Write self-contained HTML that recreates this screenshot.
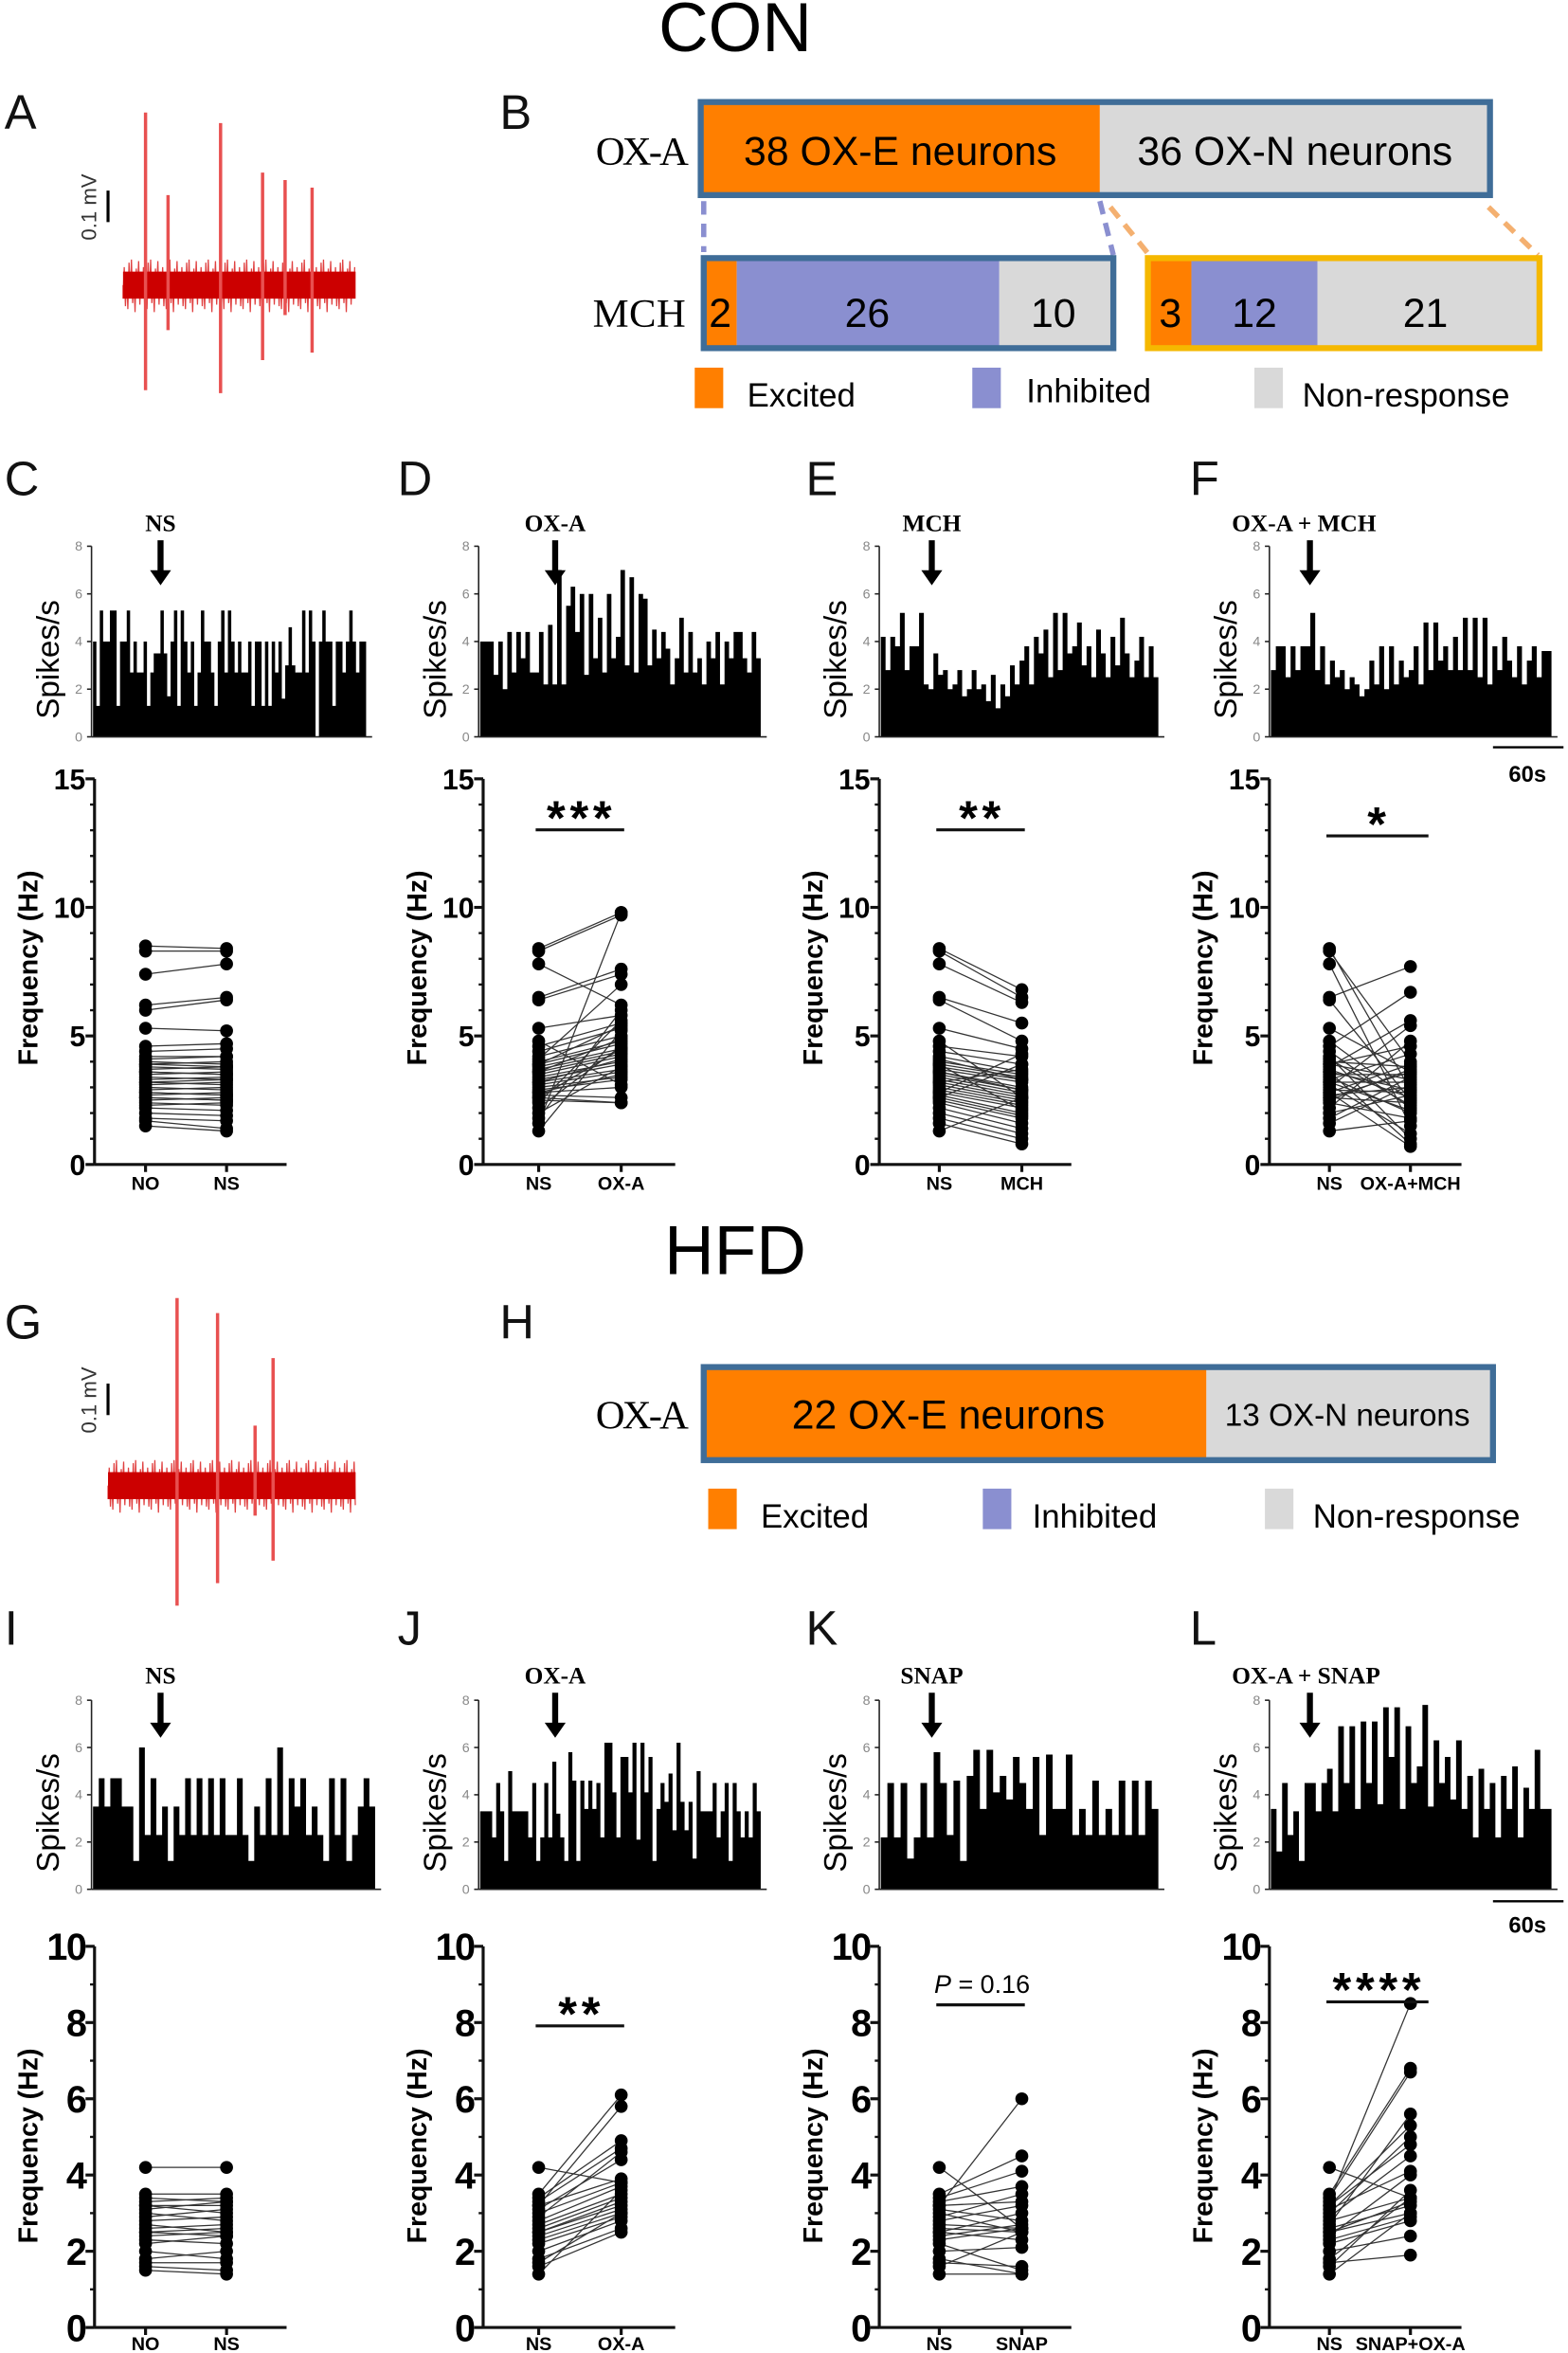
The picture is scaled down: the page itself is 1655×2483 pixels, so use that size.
<!DOCTYPE html>
<html><head><meta charset="utf-8"><style>
html,body{margin:0;padding:0;background:#fff;}
svg{display:block;}
text{font-family:"Liberation Sans",sans-serif;}
.lbl{font-size:32px;fill:#111;font-weight:normal;}
text.serif{font-family:"Liberation Serif",serif;}
</style></head><body>
<svg id="fig" width="1655" height="2483" viewBox="0 0 1045 1568" preserveAspectRatio="none" xmlns="http://www.w3.org/2000/svg">
<rect x="0" y="0" width="1045" height="1568" fill="#fff"/>
<text x="490" y="34" text-anchor="middle" font-size="46">CON</text>
<text x="490" y="849" text-anchor="middle" font-size="46">HFD</text>
<g class="lbl">
<text x="3" y="86" class="lbl">A</text>
<text x="333" y="86" class="lbl">B</text>
<text x="3" y="330" class="lbl">C</text>
<text x="265" y="330" class="lbl">D</text>
<text x="537" y="330" class="lbl">E</text>
<text x="793" y="330" class="lbl">F</text>
<text x="3" y="892" class="lbl">G</text>
<text x="333" y="892" class="lbl">H</text>
<text x="3" y="1096" class="lbl">I</text>
<text x="265" y="1096" class="lbl">J</text>
<text x="537" y="1096" class="lbl">K</text>
<text x="793" y="1096" class="lbl">L</text>
</g>

<!-- Panel B -->
<g>
<text x="397" y="110" class="serif" font-size="27" textLength="62">OX-A</text>
<rect x="467" y="68" width="266" height="62" fill="#ff7f00"/>
<rect x="733" y="68" width="260" height="62" fill="#d9d9d9"/>
<rect x="467" y="68" width="526" height="62" fill="none" stroke="#3f6d98" stroke-width="4"/>
<text x="600" y="110" text-anchor="middle" font-size="27">38 OX-E neurons</text>
<text x="863" y="110" text-anchor="middle" font-size="27">36 OX-N neurons</text>
<line x1="469" y1="134" x2="469" y2="168" stroke="#8a8fd0" stroke-width="3.5" stroke-dasharray="9,6"/>
<line x1="733" y1="134" x2="742" y2="170" stroke="#8a8fd0" stroke-width="3.5" stroke-dasharray="9,6"/>
<line x1="740" y1="138" x2="766" y2="170" stroke="#f4b070" stroke-width="3.5" stroke-dasharray="9,6"/>
<line x1="992" y1="138" x2="1025" y2="170" stroke="#f4b070" stroke-width="3.5" stroke-dasharray="9,6"/>
<text x="395" y="218" class="serif" font-size="27" textLength="62">MCH</text>
<rect x="469" y="172" width="22" height="60" fill="#ff7f00"/>
<rect x="491" y="172" width="175" height="60" fill="#8a8fd0"/>
<rect x="666" y="172" width="75" height="60" fill="#d9d9d9"/>
<rect x="469" y="172" width="273" height="60" fill="none" stroke="#3f6d98" stroke-width="4"/>
<text x="480" y="218" text-anchor="middle" font-size="27">2</text>
<text x="578" y="218" text-anchor="middle" font-size="27">26</text>
<text x="702" y="218" text-anchor="middle" font-size="27">10</text>
<rect x="765" y="172" width="29" height="60" fill="#ff7f00"/>
<rect x="794" y="172" width="84" height="60" fill="#8a8fd0"/>
<rect x="878" y="172" width="148" height="60" fill="#d9d9d9"/>
<rect x="765" y="172" width="261" height="60" fill="none" stroke="#f5b800" stroke-width="4"/>
<text x="780" y="218" text-anchor="middle" font-size="27">3</text>
<text x="836" y="218" text-anchor="middle" font-size="27">12</text>
<text x="950" y="218" text-anchor="middle" font-size="27">21</text>
<rect x="463" y="245" width="19" height="27" fill="#ff7f00"/>
<text x="498" y="271" font-size="22">Excited</text>
<rect x="648" y="245" width="19" height="27" fill="#8a8fd0"/>
<text x="684" y="268" font-size="22">Inhibited</text>
<rect x="836" y="245" width="19" height="27" fill="#d9d9d9"/>
<text x="868" y="271" font-size="22">Non-response</text>
</g>

<!-- Panel H -->
<g>
<text x="397" y="952" class="serif" font-size="27" textLength="62">OX-A</text>
<rect x="469" y="911" width="335" height="62" fill="#ff7f00"/>
<rect x="804" y="911" width="191" height="62" fill="#d9d9d9"/>
<rect x="469" y="911" width="526" height="62" fill="none" stroke="#3f6d98" stroke-width="4"/>
<text x="632" y="952" text-anchor="middle" font-size="27">22 OX-E neurons</text>
<text x="898" y="950" text-anchor="middle" font-size="21">13 OX-N neurons</text>
<rect x="472" y="992" width="19" height="27" fill="#ff7f00"/>
<text x="507" y="1018" font-size="22">Excited</text>
<rect x="655" y="992" width="19" height="27" fill="#8a8fd0"/>
<text x="688" y="1018" font-size="22">Inhibited</text>
<rect x="843" y="992" width="19" height="27" fill="#d9d9d9"/>
<text x="875" y="1018" font-size="22">Non-response</text>
</g>

<!-- 60s scale bars -->
<line x1="995" y1="498" x2="1042" y2="498" stroke="#000" stroke-width="1.5"/>
<text x="1018" y="521" text-anchor="middle" font-size="15" font-weight="bold">60s</text>
<line x1="995" y1="1267" x2="1042" y2="1267" stroke="#000" stroke-width="1.5"/>
<text x="1018" y="1288" text-anchor="middle" font-size="15" font-weight="bold">60s</text>
<g id="dyn"></g>
</svg>
<script>
// ---- Data arrays ----
const traceASpikeX = [97, 112, 147, 175, 190, 208];
const traceASpikeUp = [115, 60, 108, 75, 70, 65];
const traceASpikeDown = [70, 30, 72, 50, 20, 45];
const traceGSpikeX = [118, 145, 170, 182];
const traceGSpikeUp = [125, 115, 40, 85];
const traceGSpikeDown = [80, 65, 20, 50];

const histC = [4,1.3,5.3,4,4,5.3,5.3,1.3,4,4,5.3,2.7,4,2.7,2.7,4,1.3,2.7,3.5,3.5,5.3,3.5,1.7,4,5.3,1.3,5.3,4,2.7,4,1.3,2.7,5.3,4,4,2.7,1.3,4,5.3,2.7,5.3,4,2.7,4,2.7,2.7,4,1.3,4,4,1.3,4,1.3,4,2.7,4,1.6,3,4.6,3,2.7,2.7,5.3,2.7,5.3,4,0,4,5.3,4,4,1.3,4,4,2.7,4,5.3,4,2.7,4,4];
const histD = [4,4,4,2.6,4,2,4.4,2.7,4.4,3.3,4.4,2.7,2.7,4.4,2.2,4.7,2.2,7,2.2,5.5,6.3,4.4,6,2.6,6,3.3,5,2.7,6,3.3,4.2,7,3,6.7,2.7,6,5.8,3,4.5,3.3,4.4,3.7,2.2,3.3,5,2.7,4.4,2.7,3.3,2.2,4,3.3,4.4,2.2,4,3.3,4.4,4.4,3.3,2.7,4.4,3.3];
const histE = [4.2,2.8,4.2,3.8,5.2,2.8,3.8,3.8,5.2,2.2,2,3.5,2.6,2.8,2,2.2,2.8,1.7,2,2.8,2,2.2,1.5,2.6,1.2,2.2,1.7,3,2.2,3.2,3.8,2.2,4.2,3.5,4.5,2.5,5.2,2.8,5.2,3.5,3.8,4.8,3,3.8,2.5,4.5,3.5,2.5,4.2,3,5,3.5,2.5,3.2,4.2,2.5,3.8,2.5];
const histF = [2.8,3.8,3.8,2.5,3.8,2.8,3.8,3.8,5.2,2.8,3.8,2.2,3.2,2.5,2.8,2,2.5,2.2,1.7,2,3.2,2.2,3.8,2,3.8,2.2,3.2,2.5,2.8,3.8,2.2,4.8,2.8,4.8,3.2,3.8,2.8,4.2,2.8,5,2.8,5,2.5,5,2.2,3.8,2.8,4.2,3.2,2.5,3.8,2.2,3.2,3.8,2.5,3.6,3.6];
const histI = [3.5,4.7,3.5,4.7,4.7,3.5,3.5,1.2,6,2.3,4.7,2.3,3.5,1.2,3.5,2.3,4.7,2.3,4.7,2.3,4.7,2.3,4.7,2.3,2.3,4.7,2.3,1.2,3.5,2.3,4.7,2.3,6,2.3,4.7,3.5,4.7,2.3,3.5,2.3,1.2,4.7,2.3,4.7,1.2,2.3,3.5,4.7,3.5];
const histJ = [3.3,3.3,3.3,2.2,4.5,3.3,1.2,5,3.3,3.3,3.3,3.3,2.2,4.5,1.2,2.2,4.5,2.2,5.4,3.2,2.2,1.2,5.8,4.6,1.2,4.6,3.4,4.6,3.4,4.5,2.2,6.2,6.2,4.1,2.2,5.6,5.6,4.1,6.2,2.1,6.2,4.1,5.6,1.2,3.4,4.5,3.7,4.9,2.5,6.2,3.7,2.5,3.7,1.3,5,3.3,3.3,3.3,4.5,2.2,3.3,4.5,1.2,4.5,3.3,2.2,3.3,2.2,4.5,3.3];
const histK = [2.2,4.5,2.2,4.5,1.3,2.2,4.5,2.2,5.8,4.5,2.3,4.6,1.2,4.8,5.9,3.4,5.9,4.1,4.8,3.8,5.6,4.5,3.4,5.6,2.3,5.7,3.4,3.4,5.7,2.3,3.4,2.3,4.6,2.3,3.4,2.3,4.6,2.3,4.6,2.3,4.6,3.4];
const histL = [3.4,1.6,4.5,2.3,3.3,1.2,4.5,4.5,3.3,4.5,5.1,3.3,6.9,4.5,6.9,3.4,7.1,4.5,7.1,3.6,7.7,5.6,7.7,3.4,6.9,4.5,5.2,7.8,3.5,6.3,4.5,5.6,3.8,6.3,3.4,4.8,2.2,5.1,3.4,4.5,2.2,4.8,3.4,5.2,2.2,4.3,3.4,5.9,3.4,3.4];
const histTicks = [0, 2, 4, 6, 8];

const preC = [8.5,8.3,7.4,6.2,6.0,5.3,4.6,4.4,4.2,4.0,3.9,3.8,3.7,3.6,3.5,3.4,3.3,3.2,3.1,3.0,2.9,2.8,2.7,2.6,2.5,2.4,2.3,2.2,2.0,1.8,1.7,1.5,3.6,3.2,2.8,4.1,3.9,2.6];
const postC = [8.4,8.3,7.8,6.5,6.4,5.2,4.7,4.5,4.2,3.9,4.0,3.7,3.8,3.5,3.6,3.3,3.4,3.1,3.2,2.9,3.0,2.7,2.8,2.5,2.6,2.3,2.4,2.1,1.9,1.7,1.4,1.3,3.5,3.3,2.7,4.2,3.8,2.5];
const preD = [8.4,8.3,7.8,6.5,6.4,5.3,4.6,4.4,4.2,4.0,3.9,3.8,3.7,3.6,3.5,3.4,3.3,3.2,3.1,3.0,2.9,2.8,2.7,2.6,2.5,2.4,2.2,2.0,1.8,1.6,1.3,3.6,3.2,2.8,4.1,3.9,2.6,4.8];
const postD = [9.8,9.7,6.2,7.6,7.4,5.8,5.5,5.3,5.0,4.8,4.7,4.5,4.4,4.3,4.2,4.0,3.9,3.7,3.6,3.4,3.3,3.0,2.6,2.4,2.4,5.6,4.6,3.8,6.0,9.8,5.2,4.9,4.1,3.5,7.0,5.4,4.5,3.1];
const preE = [8.4,8.3,7.8,6.5,6.4,5.3,4.6,4.4,4.2,4.0,3.9,3.8,3.7,3.6,3.5,3.4,3.3,3.2,3.1,3.0,2.9,2.8,2.7,2.6,2.5,2.4,2.2,2.0,1.8,1.6,1.3,3.6,3.2,2.8,4.1,3.9,2.6,4.8];
const postE = [6.8,6.5,6.3,5.5,4.8,4.5,4.2,3.9,3.6,3.5,3.4,3.3,3.2,3.0,2.9,2.8,2.7,2.6,2.5,2.4,2.3,2.2,2.0,1.9,1.8,1.6,1.4,1.2,1.0,0.8,2.6,2.9,3.7,4.3,3.3,2.1,3.9,2.6];
const preF = [8.4,8.3,7.8,6.5,6.4,5.3,4.6,4.4,4.2,4.0,3.9,3.8,3.7,3.6,3.5,3.4,3.3,3.2,3.1,3.0,2.9,2.8,2.7,2.6,2.5,2.4,2.2,2.0,1.8,1.6,1.3,3.6,3.2,2.8,4.1,3.9,2.6,4.8];
const postF = [2.9,4.0,1.5,7.7,2.5,3.6,6.7,2.2,1.0,3.8,3.3,5.6,2.6,0.8,3.5,2.0,4.3,3.2,1.2,5.4,2.8,0.7,3.0,2.4,3.7,1.8,4.8,2.7,3.4,3.1,1.7,2.9,2.1,3.9,2.3,4.6,3.6,2.5];
const preI = [4.2,3.5,3.4,3.3,3.2,3.2,3.1,3.0,2.8,2.7,2.6,2.5,2.5,2.4,2.3,2.2,2.0,1.8,1.7,1.6,1.5,2.9];
const postI = [4.2,3.5,3.3,3.4,3.2,3.0,3.3,2.8,2.9,2.5,2.7,2.4,2.6,2.5,2.2,2.4,1.8,2.0,1.7,1.5,1.4,3.1];
const preJ = [4.2,3.5,3.4,3.3,3.2,3.2,3.1,3.0,2.8,2.7,2.6,2.5,2.5,2.4,2.3,2.2,2.0,1.8,1.7,1.6,1.4,2.9];
const postJ = [3.8,6.1,4.9,4.7,5.8,3.9,4.4,3.8,3.7,3.5,3.4,3.3,3.2,3.1,3.0,2.9,2.8,2.6,3.0,2.5,3.6,4.6];
const preK = [4.2,3.5,3.4,3.3,3.2,3.2,3.1,3.0,2.8,2.7,2.6,2.5,2.5,2.4,2.3,2.2,2.0,1.8,1.7,1.6,1.4,2.9];
const postK = [2.6,4.5,4.1,3.7,6.0,3.3,2.8,2.5,3.2,2.6,2.5,2.3,3.0,2.7,2.6,1.5,2.1,1.4,1.6,2.5,1.4,3.5];
const preL = [4.2,3.5,3.4,3.3,3.2,3.2,3.1,3.0,2.8,2.7,2.6,2.5,2.5,2.4,2.3,2.2,2.0,1.8,1.7,1.6,1.4,2.9];
const postL = [3.4,6.8,6.7,8.5,5.3,4.8,4.1,5.0,3.4,5.6,3.2,3.3,3.0,4.0,2.9,2.8,2.4,3.4,1.9,3.6,3.0,4.5];
const conTicks = [0, 5, 10, 15];
const hfdTicks = [0, 2, 4, 6, 8, 10];

// ---- Drawing ----
const NS = 'http://www.w3.org/2000/svg';
const root = document.getElementById('dyn');
function mk(tag, attrs, parent) {
  const e = document.createElementNS(NS, tag);
  for (const k in attrs) e.setAttribute(k, attrs[k]);
  (parent || root).appendChild(e);
  return e;
}

function trace(name, x0, x1, base, sx, su, sd, scaleX, scaleTop) {
  const g = mk('g', {});
  
  
  const wig = [9, -12, 14, -6, 16, -15, 8, -17, 12, -7, 18, -11, 5, -16, 13, -9];
  let d = 'M' + x0 + ' ' + base;
  for (let x = x0, i = 0; x <= x1; x += 0.8, i++) d += ' L' + x + ' ' + (base + wig[i % wig.length]);
  const n = mk('path', { d: d, fill: 'none', stroke: '#e04040', 'stroke-width': 0.8 }, g);
  
  
  mk('rect', { x: x0, y: base - 9, width: x1 - x0, height: 18, fill: '#cc0000' }, g);
  for (let i = 0; i < sx.length; i++) {
    const l = mk('line', { x1: sx[i], x2: sx[i], y1: base - su[i], y2: base + sd[i], stroke: '#e85050', 'stroke-width': 2.2 }, g);
    
    
  }
  const sb = mk('line', { x1: scaleX, x2: scaleX, y1: scaleTop, y2: scaleTop + 21, stroke: '#000', 'stroke-width': 2 }, g);
  
  
  const t = mk('text', { x: 0, y: 0, 'font-size': 14, fill: '#333', 'text-anchor': 'middle', transform: 'translate(' + (scaleX - 8) + ',' + (scaleTop + 11) + ') rotate(-90)' }, g);
  t.textContent = '0.1 mV';
  
  
}

function hist(name, ax, yTop, yBot, xEnd, data, arrowX, arrowTop, label) {
  const g = mk('g', {});
  
  
  const y = v => yBot - v / 8 * (yBot - yTop);
  const bw = (xEnd - ax - 2) / data.length;
  let d = 'M' + (ax + 1) + ' ' + yBot;
  data.forEach((v, i) => {
    const x = ax + 1 + i * bw;
    d += ' L' + x + ' ' + y(v) + ' L' + (x + bw) + ' ' + y(v);
  });
  d += ' L' + (xEnd - 1) + ' ' + yBot + ' Z';
  const p = mk('path', { d: d, fill: '#000' }, g);
  
  
  mk('line', { x1: ax, x2: ax, y1: yTop, y2: yBot, stroke: '#222', 'stroke-width': 1 }, g);
  mk('line', { x1: ax, x2: xEnd + 3, y1: yBot, y2: yBot, stroke: '#222', 'stroke-width': 1 }, g);
  histTicks.forEach(v => {
    mk('line', { x1: ax - 3, x2: ax, y1: y(v), y2: y(v), stroke: '#222', 'stroke-width': 1 }, g);
    const t = mk('text', { x: ax - 6, y: y(v) + 3, 'font-size': 9, fill: '#888', 'text-anchor': 'end' }, g);
    t.textContent = v;
    
    
  });
  const yl = mk('text', { x: 0, y: 0, 'font-size': 21, 'text-anchor': 'middle', transform: 'translate(' + (ax - 22) + ',' + ((yTop + yBot) / 2 + 12) + ') rotate(-90)' }, g);
  yl.textContent = 'Spikes/s';
  
  
  const ar = mk('path', { d: 'M' + (arrowX - 2) + ' ' + arrowTop + ' h4 v20 h5 l-7 10 l-7 -10 h5 z', fill: '#000' }, g);
  
  
  const lt = mk('text', { x: label.length > 6 ? arrowX - 52 : arrowX, y: arrowTop - 6, 'font-size': 16, 'font-weight': 'bold', 'text-anchor': label.length > 6 ? 'start' : 'middle', style: 'font-family:"Liberation Serif",serif' }, g);
  lt.textContent = label;
  
  
}

function paired(name, ax, yTop, yBot, max, ticks, minorStep, xL, xR, pre, post, labs, sigY, sigText, sigItalicP, hfd) {
  const g = mk('g', {});
  
  
  const y = v => yBot - v / max * (yBot - yTop);
  mk('line', { x1: ax, x2: ax, y1: yTop, y2: yBot, stroke: '#111', 'stroke-width': 2 }, g);
  mk('line', { x1: ax, x2: ax + 128, y1: yBot, y2: yBot, stroke: '#111', 'stroke-width': 2 }, g);
  for (let v = 0; v <= max; v += minorStep) {
    mk('line', { x1: ax - 3, x2: ax, y1: y(v), y2: y(v), stroke: '#111', 'stroke-width': 1.5 }, g);
  }
  ticks.forEach(v => {
    mk('line', { x1: ax - 6, x2: ax, y1: y(v), y2: y(v), stroke: '#111', 'stroke-width': 2 }, g);
    const t = mk('text', { x: ax - 6, y: y(v) + (hfd ? 9 : 7), 'font-size': hfd ? 25 : 19, 'font-weight': 'bold', 'text-anchor': 'end', 'letter-spacing': hfd ? -1 : 0 }, g);
    t.textContent = v;
    
    
  });
  const yl = mk('text', { x: 0, y: 0, 'font-size': 18, 'font-weight': 'bold', 'text-anchor': 'middle', transform: 'translate(' + (ax - 38) + ',' + (hfd ? 1430 : 645) + ') rotate(-90)' }, g);
  yl.textContent = 'Frequency (Hz)';
  
  
  [xL, xR].forEach((x, i) => {
    mk('line', { x1: x, x2: x, y1: yBot, y2: yBot + 5, stroke: '#111', 'stroke-width': 2 }, g);
    const t = mk('text', { x: x, y: yBot + (hfd ? 15 : 17), 'font-size': 12.5, 'font-weight': 'bold', 'text-anchor': 'middle' }, g);
    t.textContent = labs[i];
    
    
  });
  for (let i = 0; i < pre.length; i++) {
    const l = mk('line', { x1: xL, y1: y(pre[i]), x2: xR, y2: y(post[i]), stroke: '#333', 'stroke-width': 0.8 }, g);
    
    
  }
  for (let i = 0; i < pre.length; i++) {
    const a = mk('circle', { cx: xL, cy: y(pre[i]), r: 4.3, fill: '#000' }, g);
    
    
    const b = mk('circle', { cx: xR, cy: y(post[i]), r: 4.3, fill: '#000' }, g);
    
    
  }
  if (sigText) {
    const xe = xR + (labs[1].length > 6 ? 12 : 2);
    const sl = mk('line', { x1: xL - 2, x2: xe, y1: sigY, y2: sigY, stroke: '#111', 'stroke-width': 2 }, g);
    
    
    const cx = (xL + xe) / 2;
    const st = mk('text', { x: cx, y: sigItalicP ? sigY - 8 : sigY + 3, 'font-size': sigItalicP ? 17 : 32, 'font-weight': sigItalicP ? 'normal' : 'bold', 'text-anchor': 'middle', 'letter-spacing': sigItalicP ? 0 : 3 }, g);
    if (sigItalicP) {
      const ts = mk('tspan', { 'font-style': 'italic' }, st);
      ts.textContent = 'P';
      const ts2 = mk('tspan', {}, st);
      ts2.textContent = ' = 0.16';
    } else st.textContent = sigText;
    
    
  }
}

trace('trace-a', 82, 237, 190, traceASpikeX, traceASpikeUp, traceASpikeDown, 72, 127);
trace('trace-g', 72, 237, 990, traceGSpikeX, traceGSpikeUp, traceGSpikeDown, 72, 922);

hist('hist-c', 61, 364, 491, 245, histC, 107, 360, 'NS');
hist('hist-d', 319, 364, 491, 508, histD, 370, 360, 'OX-A');
hist('hist-e', 586, 364, 491, 773, histE, 621, 360, 'MCH');
hist('hist-f', 846, 364, 491, 1035, histF, 873, 360, 'OX-A + MCH');
hist('hist-i', 61, 1133, 1259, 251, histI, 107, 1128, 'NS');
hist('hist-j', 319, 1133, 1259, 508, histJ, 370, 1128, 'OX-A');
hist('hist-k', 586, 1133, 1259, 773, histK, 621, 1128, 'SNAP');
hist('hist-l', 846, 1133, 1259, 1035, histL, 873, 1128, 'OX-A + SNAP');

paired('freq-c', 63, 519, 776, 15, conTicks, 1, 97, 151, preC, postC, ['NO', 'NS'], 0, '', false, false);
paired('freq-d', 322, 519, 776, 15, conTicks, 1, 359, 414, preD, postD, ['NS', 'OX-A'], 553, '***', false, false);
paired('freq-e', 586, 519, 776, 15, conTicks, 1, 626, 681, preE, postE, ['NS', 'MCH'], 553, '**', false, false);
paired('freq-f', 846, 519, 776, 15, conTicks, 1, 886, 940, preF, postF, ['NS', 'OX-A+MCH'], 557, '*', false, false);
paired('freq-i', 63, 1297, 1551, 10, hfdTicks, 1, 97, 151, preI, postI, ['NO', 'NS'], 0, '', false, true);
paired('freq-j', 322, 1297, 1551, 10, hfdTicks, 1, 359, 414, preJ, postJ, ['NS', 'OX-A'], 1350, '**', false, true);
paired('freq-k', 586, 1297, 1551, 10, hfdTicks, 1, 626, 681, preK, postK, ['NS', 'SNAP'], 1336, 'P', true, true);
paired('freq-l', 846, 1297, 1551, 10, hfdTicks, 1, 886, 940, preL, postL, ['NS', 'SNAP+OX-A'], 1334, '****', false, true);
</script>
</body></html>
